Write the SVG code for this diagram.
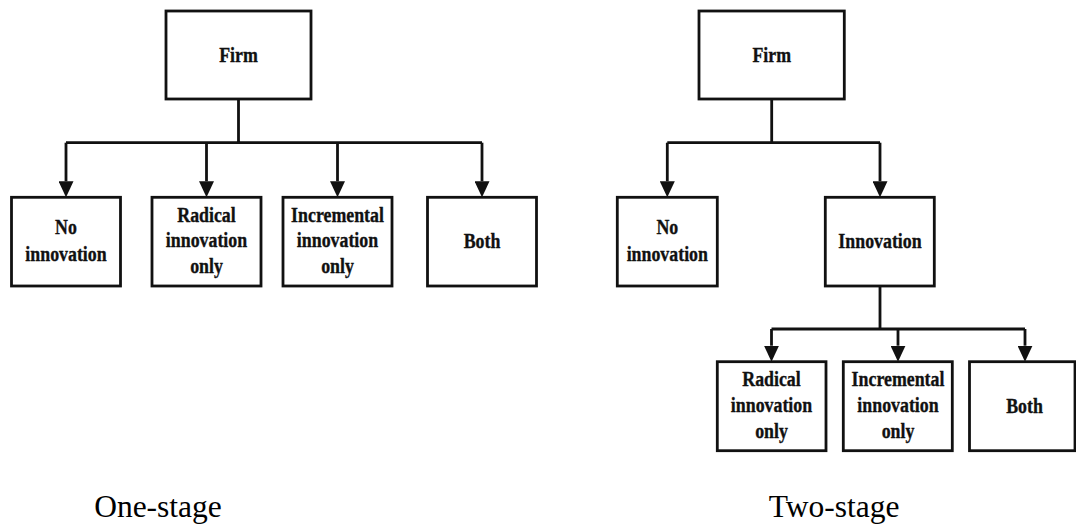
<svg xmlns="http://www.w3.org/2000/svg" width="1076" height="524" viewBox="0 0 1076 524">
  <style>
    .box { fill: #fff; stroke: #111; stroke-width: 2.8; }
    .wire { fill: none; stroke: #111; stroke-width: 2.8; }
    .drop { fill: none; stroke: #111; stroke-width: 2.8; marker-end: url(#arrow); }
    .lbl { font-family: "Liberation Serif", "Times New Roman", serif; font-weight: bold; font-size: 21.5px; fill: #111; stroke: #111; stroke-width: 0.35; text-anchor: middle; }
    .cap { font-family: "Liberation Serif", "Times New Roman", serif; font-size: 31.5px; fill: #000; text-anchor: middle; }
  </style>
  <defs>
    <marker id="arrow" markerUnits="userSpaceOnUse" markerWidth="16" markerHeight="15" viewBox="0 0 16 15" refX="0" refY="7.5" orient="auto">
      <path d="M0,0 L16,7.5 L0,15 Z" fill="#111"/>
    </marker>
  </defs>
  <rect width="1076" height="524" fill="#fff"/>

  <!-- connectors -->
  <g id="connectors">
    <!-- one-stage tree -->
    <path class="wire" d="M238.5,99 V142.7 M66,142.7 H482"/>
    <path class="drop" d="M66,142.7 V181.3"/>
    <path class="drop" d="M206.5,142.7 V181.3"/>
    <path class="drop" d="M337.5,142.7 V181.3"/>
    <path class="drop" d="M482,142.7 V181.3"/>
    <!-- two-stage tree, first split -->
    <path class="wire" d="M771.7,99 V142.7 M667.3,142.7 H880"/>
    <path class="drop" d="M667.3,142.7 V181.3"/>
    <path class="drop" d="M880,142.7 V181.3"/>
    <!-- two-stage tree, second split -->
    <path class="wire" d="M880,286 V329 M771.5,329 H1025"/>
    <path class="drop" d="M771.5,329 V345.7"/>
    <path class="drop" d="M898,329 V345.7"/>
    <path class="drop" d="M1025,329 V345.7"/>
  </g>

  <!-- one-stage nodes -->
  <g id="one-firm">
    <rect class="box" x="166" y="11" width="145" height="88"/>
    <text class="lbl" transform="translate(238.5 0) scale(0.83 1)" x="0" y="61.7">Firm</text>
  </g>
  <g id="one-none">
    <rect class="box" x="11.5" y="197.3" width="109" height="88.7"/>
    <text class="lbl" transform="translate(66 0) scale(0.83 1)"><tspan x="0" y="234.3">No</tspan><tspan x="0" y="260.7">innovation</tspan></text>
  </g>
  <g id="one-radical">
    <rect class="box" x="152" y="197.3" width="109" height="88.7"/>
    <text class="lbl" transform="translate(206.5 0) scale(0.83 1)"><tspan x="0" y="221.7">Radical</tspan><tspan x="0" y="247.5">innovation</tspan><tspan x="0" y="273">only</tspan></text>
  </g>
  <g id="one-incremental">
    <rect class="box" x="283" y="197.3" width="109" height="88.7"/>
    <text class="lbl" transform="translate(337.5 0) scale(0.83 1)"><tspan x="0" y="221.7">Incremental</tspan><tspan x="0" y="247.5">innovation</tspan><tspan x="0" y="273">only</tspan></text>
  </g>
  <g id="one-both">
    <rect class="box" x="427.5" y="197.3" width="109" height="88.7"/>
    <text class="lbl" transform="translate(482 0) scale(0.83 1)" x="0" y="248.3">Both</text>
  </g>

  <!-- two-stage nodes -->
  <g id="two-firm">
    <rect class="box" x="699" y="11" width="145.3" height="88"/>
    <text class="lbl" transform="translate(771.7 0) scale(0.83 1)" x="0" y="61.7">Firm</text>
  </g>
  <g id="two-none">
    <rect class="box" x="617.3" y="197.3" width="100" height="88.7"/>
    <text class="lbl" transform="translate(667.3 0) scale(0.83 1)"><tspan x="0" y="234.3">No</tspan><tspan x="0" y="260.7">innovation</tspan></text>
  </g>
  <g id="two-innovation">
    <rect class="box" x="825.3" y="197.3" width="109" height="88.7"/>
    <text class="lbl" transform="translate(880 0) scale(0.83 1)" x="0" y="248.3">Innovation</text>
  </g>
  <g id="two-radical">
    <rect class="box" x="717.3" y="361.7" width="108.7" height="89"/>
    <text class="lbl" transform="translate(771.5 0) scale(0.83 1)"><tspan x="0" y="386.5">Radical</tspan><tspan x="0" y="412.5">innovation</tspan><tspan x="0" y="438">only</tspan></text>
  </g>
  <g id="two-incremental">
    <rect class="box" x="843.3" y="361.7" width="109" height="89"/>
    <text class="lbl" transform="translate(898 0) scale(0.83 1)"><tspan x="0" y="386.5">Incremental</tspan><tspan x="0" y="412.5">innovation</tspan><tspan x="0" y="438">only</tspan></text>
  </g>
  <g id="two-both">
    <rect class="box" x="969.5" y="361.7" width="105.5" height="89"/>
    <text class="lbl" transform="translate(1024.5 0) scale(0.83 1)" x="0" y="412.7">Both</text>
  </g>

  <!-- captions -->
  <text class="cap" x="158" y="516.7">One-stage</text>
  <text class="cap" x="834.2" y="516.7">Two-stage</text>
</svg>
